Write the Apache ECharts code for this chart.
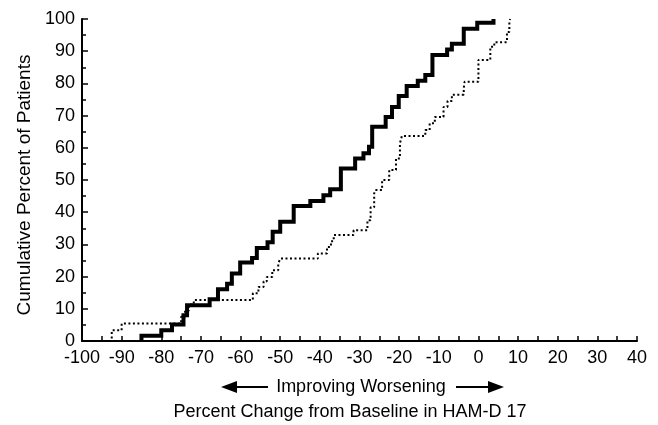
<!DOCTYPE html>
<html>
<head>
<meta charset="utf-8">
<script src="https://cdn.jsdelivr.net/npm/echarts@6/dist/echarts.min.js"></script>
<style>
  html, body { margin: 0; padding: 0; background: #fff; }
  #chart { width: 658px; height: 425px; }
</style>
</head>
<body>
<div id="chart"></div>
<script>
// cumulative percent of patients vs percent change in HAM-D 17
// each point: [change, cumulative %], drawn as steps
const solidSteps = [
  [-85, 0], [-85, 1.6], [-80, 3.3], [-77.3, 5.1], [-74.4, 8], [-73.5, 11.1],
  [-67.8, 13], [-65.7, 16.1], [-63.4, 17.8], [-62.2, 21], [-60.1, 24.4],
  [-57.1, 25.8], [-55.9, 28.9], [-53.2, 30.7], [-51.9, 33.9], [-50, 37],
  [-46.6, 41.9], [-42.4, 43.5], [-39.1, 45.3], [-37.4, 47.1], [-34.7, 53.6],
  [-31.1, 56.7], [-29, 58.3], [-27.6, 60.3], [-26.8, 66.5], [-23.4, 69.6],
  [-21.8, 72.7], [-20.1, 76.1], [-18.1, 79.2], [-15.3, 80.8], [-13.4, 82.6],
  [-11.6, 88.8], [-7.9, 90.5], [-6.7, 92.3], [-3.7, 97], [-0.3, 98.8], [3.8, 100]
];

const dottedSteps = [
  [-92.5, 0.8], [-92.5, 3.3], [-90, 5.4], [-75, 7.5], [-74, 9.5], [-73, 11.3],
  [-71.8, 12.7], [-56.9, 14.8], [-55.5, 16.8], [-54.2, 18.5], [-53.4, 19.9],
  [-52, 22], [-50.5, 24], [-50, 25.6], [-40.5, 27.2], [-38.2, 29.2], [-37.2, 31],
  [-36.5, 32.9], [-31.5, 34.4], [-28, 37.5], [-27.2, 41.5], [-26.3, 45.8],
  [-26, 46.9], [-24.3, 50], [-22.5, 53.1], [-20.8, 56.7], [-19.8, 61.4],
  [-19.3, 63.7], [-13.4, 65.5], [-12.3, 67.6], [-11, 69.6], [-8.8, 72.7],
  [-7.8, 74.5], [-6.7, 76.5], [-3.7, 78.5], [-3.5, 80.5], [0, 87.3], [3, 91.4],
  [4, 92.8], [7.2, 96], [7.8, 99.2], [8, 100]
];

const xTicks = { min: -100, max: 40, step: 10 };
const yTicks = { min: 0, max: 100, step: 10 };

const FONT = 'Liberation Sans, Arial, Helvetica, sans-serif';
const FS = 18;

const chart = echarts.init(document.getElementById('chart'));

const option = {
  animation: false,
  backgroundColor: '#fff',
  grid: { left: 82, right: 21, top: 19, bottom: 84, outerBoundsMode: 'none' },
  xAxis: {
    type: 'value',
    min: xTicks.min,
    max: xTicks.max,
    interval: xTicks.step,
    axisLine: { show: true, onZero: false, lineStyle: { color: '#000', width: 2 } },
    axisTick: { show: true, inside: true, length: 5, lineStyle: { color: '#000', width: 1.5 } },
    minorTick: { show: true, splitNumber: 2, length: 5, lineStyle: { color: '#000', width: 1.5 } },
    splitLine: { show: false },
    axisLabel: { color: '#000', fontSize: FS, fontFamily: FONT, margin: 8 }
  },
  yAxis: {
    type: 'value',
    min: yTicks.min,
    max: yTicks.max,
    interval: yTicks.step,
    axisLine: { show: true, onZero: false, lineStyle: { color: '#000', width: 2 } },
    axisTick: { show: true, inside: true, length: 6, lineStyle: { color: '#000', width: 1.5 } },
    minorTick: { show: true, splitNumber: 2, length: 4, lineStyle: { color: '#000', width: 1.5 } },
    splitLine: { show: false },
    axisLabel: { color: '#000', fontSize: FS, fontFamily: FONT, margin: 7 }
  },
  series: [
    {
      name: 'dotted',
      type: 'line',
      step: 'end',
      data: dottedSteps,
      showSymbol: false,
      lineStyle: { color: '#000', width: 2, type: [2, 2.5], cap: 'butt' }
    },
    {
      name: 'solid',
      type: 'line',
      step: 'end',
      data: solidSteps,
      showSymbol: false,
      lineStyle: { color: '#000', width: 4, join: 'miter' }
    }
  ],
  graphic: [
    {
      type: 'text',
      x: 25, y: 185, rotation: Math.PI / 2,
      style: { text: 'Cumulative Percent of Patients', fill: '#000', font: '19px ' + FONT, align: 'center', verticalAlign: 'middle' }
    },
    {
      type: 'text',
      x: 361, y: 387,
      style: { text: 'Improving Worsening', fill: '#000', font: FS + 'px ' + FONT, align: 'center', verticalAlign: 'middle' }
    },
    {
      type: 'text',
      x: 350, y: 412,
      style: { text: 'Percent Change from Baseline in HAM-D 17', fill: '#000', font: FS + 'px ' + FONT, align: 'center', verticalAlign: 'middle' }
    },
    // left arrow
    { type: 'line', shape: { x1: 234, y1: 387, x2: 268, y2: 387 }, style: { stroke: '#000', lineWidth: 2 } },
    { type: 'polygon', shape: { points: [[221, 387], [237, 381], [237, 393]] }, style: { fill: '#000' } },
    // right arrow
    { type: 'line', shape: { x1: 456, y1: 387, x2: 490, y2: 387 }, style: { stroke: '#000', lineWidth: 2 } },
    { type: 'polygon', shape: { points: [[504, 387], [488, 381], [488, 393]] }, style: { fill: '#000' } }
  ]
};

chart.setOption(option);
</script>
</body>
</html>
